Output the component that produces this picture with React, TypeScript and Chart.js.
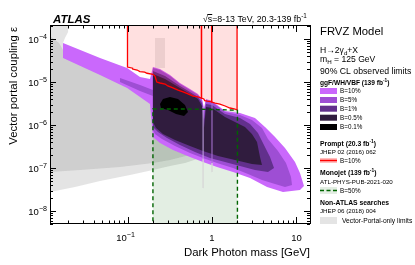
import React, { useEffect, useRef } from 'react';
import { Chart, registerables } from 'chart.js';

Chart.register(...registerables);

const FONT = '"Liberation Sans", Arial, Helvetica, sans-serif';

// Axis ranges (dark photon mass [GeV], vector portal coupling)
const X_MIN = 0.0121;
const X_MAX = 14.45;
const Y_MIN = 5e-9;
const Y_MAX = 2.12e-4;

const X_TICK_VALUES = [0.1, 1, 10];
const X_TICK_LABELS: [string, string][] = [['10', '\u22121'], ['1', ''], ['10', '']];
const Y_TICK_VALUES = [1e-4, 1e-5, 1e-6, 1e-7, 1e-8];
const Y_TICK_LABELS: [string, string][] = [['10', '\u22124'], ['10', '\u22125'], ['10', '\u22126'], ['10', '\u22127'], ['10', '\u22128']];

type P = [number, number];

// Non-ATLAS vector-portal-only limits (grey layers)
const greyOuter: P[] = [
  [0.0121, 2.3e-4], [0.0198, 2.3e-4], [0.0198, 1.456e-4], [0.0182, 1.055e-4], [0.01725, 8.07e-5],
  [0.01725, 5.55e-5], [0.0473, 2.48e-5], [0.2, 8.51e-6], [0.365, 4.99e-6], [0.721, 2.23e-6],
  [0.826, 2.62e-7], [0.721, 1.71e-7], [0.479, 1.31e-7], [0.3185, 1.11e-7], [0.2, 8.98e-8],
  [0.107, 6.87e-8], [0.0473, 4.99e-8], [0.0239, 3.61e-8], [0.0121, 2.77e-8],
];
const greyInner: P[] = [
  [0.0121, 1.175e-4], [0.0155, 8.07e-5], [0.01725, 5.55e-5], [0.0473, 2.48e-5], [0.2, 8.51e-6],
  [0.365, 4.99e-6], [0.721, 2.23e-6], [0.76, 6e-7], [0.549, 2.0e-7], [0.3185, 1.535e-7],
  [0.2, 1.31e-7], [0.0815, 1.055e-7], [0.0274, 8.98e-8], [0.0121, 8.07e-8],
];
const greyStripe: P[] = [[0.2115, 1.055e-4], [0.278, 1.055e-4], [0.278, 2.12e-5], [0.2115, 2.12e-5]];

// Monojet (B=50%)
const monojet: P[] = [
  [0.2, 4e-9], [0.2, 2.36e-6], [0.5, 2.36e-6], [1.0, 2.3e-6], [1.5, 2.25e-6], [2.0, 2.2e-6], [2.0, 4e-9],
];

// ggF/WH/VBF displaced searches
const b10: P[] = [
  [0.01725, 8.07e-5], [0.0473, 3.61e-5], [0.099, 2.12e-5], [0.1406, 1.31e-5], [0.1846, 1.175e-5],
  [0.2, 2.23e-5], [0.2425, 2.0e-5], [0.3185, 1.455e-5], [0.418, 9.48e-6], [0.549, 6.87e-6],
  [0.6825, 5.26e-6], [0.761, 4.03e-6], [0.804, 2.49e-6], [0.849, 4.03e-6], [1.0, 3.61e-6],
  [1.425, 2.12e-6], [2.145, 1.9e-6], [3.227, 1.455e-6], [4.24, 8.98e-7], [5.57, 5.26e-7],
  [7.31, 2.92e-7], [9.6, 1.38e-7], [11.0, 7.65e-8], [12.27, 3.81e-8], [11.0, 3.08e-8],
  [6.92, 2.77e-8], [4.48, 3.61e-8], [2.817, 5.85e-8], [1.773, 8.07e-8], [1.146, 1.055e-7],
  [0.782, 1.38e-7], [0.549, 1.8e-7], [0.3455, 2.62e-7], [0.2425, 3.81e-7], [0.2, 5.26e-7],
  [0.1846, 3.08e-6], [0.1406, 4.48e-6], [0.099, 7.25e-6], [0.0473, 1.455e-5], [0.01725, 3.61e-5],
];
const b5: P[] = [
  [0.2, 2.12e-5], [0.2425, 1.9e-5], [0.3185, 1.38e-5], [0.418, 8.98e-6], [0.549, 6.51e-6],
  [0.6825, 4.99e-6], [0.761, 3.81e-6], [0.804, 2.0e-6], [0.849, 3.81e-6], [1.0, 3.43e-6],
  [1.425, 2.0e-6], [2.145, 1.71e-6], [2.97, 1.31e-6], [3.905, 8.51e-7], [4.6, 4.72e-7],
  [6.04, 2.48e-7], [7.51, 1.31e-7], [8.61, 6.18e-8], [8.85, 4.03e-8], [7.31, 3.61e-8],
  [5.57, 4.25e-8], [3.905, 5.26e-8], [2.667, 7.25e-8], [1.773, 1.0e-7], [1.146, 1.31e-7],
  [0.782, 1.71e-7], [0.549, 2.23e-7], [0.365, 3.25e-7], [0.256, 4.72e-7], [0.2115, 6.18e-7],
  [0.2, 7.65e-7],
];
const b5Streak: P[] = [
  [0.0815, 1.24e-5], [0.1406, 8.51e-6], [0.2, 6.51e-6], [0.2, 4.72e-6], [0.1406, 6.18e-6], [0.0815, 1.0e-5],
];
const b1: P[] = [
  [0.2, 1.8e-5], [0.278, 1.38e-5], [0.418, 8.07e-6], [0.549, 5.85e-6], [0.6825, 4.48e-6],
  [0.761, 3.25e-6], [0.804, 1.31e-6], [0.849, 3.08e-6], [1.0, 2.92e-6], [1.425, 1.8e-6],
  [2.145, 1.455e-6], [2.817, 1.055e-6], [3.5, 6.51e-7], [4.12, 3.43e-7], [4.86, 1.8e-7],
  [5.42, 1.0e-7], [4.6, 8.07e-8], [3.227, 8.98e-8], [2.145, 1.11e-7], [1.425, 1.38e-7],
  [0.947, 1.71e-7], [0.629, 2.36e-7], [0.418, 3.43e-7], [0.2935, 4.99e-7], [0.2296, 6.87e-7],
  [0.2, 8.98e-7],
];
const b05: P[] = [
  [0.2, 1.535e-5], [0.278, 1.175e-5], [0.418, 7.25e-6], [0.549, 5.26e-6], [0.6825, 4.03e-6],
  [0.761, 2.77e-6], [0.804, 8.51e-7], [0.849, 2.62e-6], [1.0, 2.49e-6], [1.425, 1.535e-6],
  [2.458, 8.98e-7], [2.97, 6.18e-7], [3.41, 4.03e-7], [3.7, 1.8e-7], [3.905, 1.175e-7],
  [2.97, 1.24e-7], [1.871, 1.535e-7], [1.178, 1.9e-7], [0.782, 2.48e-7], [0.549, 3.25e-7],
  [0.365, 4.48e-7], [0.263, 6.18e-7], [0.2175, 8.51e-7], [0.2, 1.175e-6],
];
const b01: P[] = [
  [0.2425, 3.08e-6], [0.263, 4.03e-6], [0.3185, 4.48e-6], [0.396, 4.03e-6], [0.479, 2.92e-6],
  [0.52, 2.0e-6], [0.4665, 1.62e-6], [0.375, 1.8e-6], [0.3015, 2.23e-6], [0.249, 2.49e-6],
];
const spikeA: P[] = [[0.785, 2.6e-6], [0.785, 1.6e-7]];
const spikeAlow: P[] = [[0.785, 1.6e-7], [0.785, 3.43e-8]];
const spikeB: P[] = [[1.0, 3.2e-6], [1.0, 1.3e-7]];
const spikeBlow: P[] = [[1.0, 1.3e-7], [1.0, 8.07e-8]];

// Prompt search (B=10%)
const promptA: P[] = [
  [0.1, 2.3e-4], [0.1, 2.23e-5], [0.115, 2.1e-5], [0.115, 2.0e-5], [0.13, 1.9e-5], [0.14, 1.75e-5],
  [0.16, 1.7e-5], [0.17, 1.6e-5], [0.2, 1.5e-5], [0.2115, 1.38e-5], [0.222, 1.0e-5], [0.2425, 9.5e-6],
  [0.278, 9.0e-6], [0.3, 8.1e-6], [0.345, 7.3e-6], [0.396, 6.5e-6], [0.454, 5.9e-6], [0.52, 5.3e-6],
  [0.596, 4.7e-6], [0.68, 4.5e-6], [0.751, 4.25e-6], [0.751, 2.3e-4],
];
const promptB: P[] = [
  [0.751, 2.3e-4], [0.751, 4.25e-6], [0.8, 4.03e-6], [0.82, 3.7e-6], [0.88, 3.61e-6], [0.99, 3.5e-6], [0.99, 2.3e-4],
];
const promptC: P[] = [
  [0.99, 2.3e-4], [0.99, 3.43e-6], [1.09, 3.25e-6], [1.24, 3.08e-6], [1.43, 2.77e-6], [1.63, 2.49e-6],
  [1.87, 2.36e-6], [1.98, 2.23e-6], [1.98, 2.3e-4],
];

const C_B10 = 'rgb(202,104,252)';
const C_B5 = 'rgb(158,78,212)';
const C_B1 = 'rgb(98,48,140)';
const C_B05 = 'rgb(48,28,62)';
const C_B01 = 'rgb(0,0,0)';
const C_GREY = 'rgba(120,120,120,0.2)';
const C_MONO = 'rgba(0,100,0,0.11)';
const C_PINK = 'rgba(255,0,0,0.12)';

const LEGEND_B: [string, string][] = [
  ['B=10%', C_B10], ['B=5%', C_B5], ['B=1%', C_B1], ['B=0.5%', C_B05], ['B=0.1%', C_B01],
];

type Seg = { t: string; k?: 'sup' | 'sub' };

function drawRich(
  ctx: CanvasRenderingContext2D, segs: Seg[], x: number, y: number, size: number,
  weight = 'normal', style = 'normal', align: 'left' | 'right' | 'center' = 'left', smallScale = 0.72,
) {
  const f = (s: number) => `${style} ${weight} ${s}px ${FONT}`;
  const small = size * smallScale;
  let w = 0;
  const ws = segs.map((s) => {
    ctx.font = f(s.k ? small : size);
    const m = ctx.measureText(s.t).width;
    w += m;
    return m;
  });
  let cx = align === 'left' ? x : align === 'right' ? x - w : x - w / 2;
  ctx.textAlign = 'left';
  ctx.textBaseline = 'alphabetic';
  segs.forEach((s, i) => {
    ctx.font = f(s.k ? small : size);
    const dy = s.k === 'sup' ? -size * 0.42 : s.k === 'sub' ? size * 0.28 : 0;
    ctx.fillText(s.t, cx, y + dy);
    cx += ws[i];
  });
  return w;
}

const overlay = {
  id: 'overlay',
  afterDraw(chart: any) {
    const ctx: CanvasRenderingContext2D = chart.ctx;
    const xs = chart.scales.x;
    const ys = chart.scales.y;
    const { left, right, top, bottom } = chart.chartArea;
    ctx.save();
    ctx.fillStyle = '#000';
    ctx.strokeStyle = '#000';
    ctx.lineWidth = 1;
    ctx.setLineDash([]);
    ctx.beginPath();
    for (let d = -2; d <= 1; d++) {
      for (let m = 1; m <= 9; m++) {
        const v = m * Math.pow(10, d);
        if (v < X_MIN || v > X_MAX) continue;
        const px = Math.round(xs.getPixelForValue(v)) + 0.5;
        const L = m === 1 ? 7 : 3.5;
        ctx.moveTo(px, bottom); ctx.lineTo(px, bottom - L);
        ctx.moveTo(px, top); ctx.lineTo(px, top + L);
      }
    }
    for (let d = -9; d <= -4; d++) {
      for (let m = 1; m <= 9; m++) {
        const v = m * Math.pow(10, d);
        if (v < Y_MIN || v > Y_MAX) continue;
        const py = Math.round(ys.getPixelForValue(v)) + 0.5;
        const L = m === 1 ? 6 : 3;
        ctx.moveTo(left, py); ctx.lineTo(left + L, py);
        ctx.moveTo(right, py); ctx.lineTo(right - L, py);
      }
    }
    ctx.stroke();
    ctx.strokeRect(left + 0.5, top + 0.5, right - left, bottom - top - 1);

    // tick labels
    X_TICK_VALUES.forEach((v, i) => {
      const px = xs.getPixelForValue(v);
      const [b, s] = X_TICK_LABELS[i];
      const segs: Seg[] = s ? [{ t: b }, { t: s, k: 'sup' }] : [{ t: b }];
      drawRich(ctx, segs, s ? px - 2 : px, 240.5, 9.5, 'normal', 'normal', 'center', 0.75);
    });
    Y_TICK_VALUES.forEach((v, i) => {
      const py = ys.getPixelForValue(v);
      const [b, s] = Y_TICK_LABELS[i];
      drawRich(ctx, [{ t: b }, { t: s, k: 'sup' }], 47, py + 3.5, 9.5, 'normal', 'normal', 'right', 0.75);
    });

    // axis titles
    ctx.font = `11.4px ${FONT}`;
    ctx.textAlign = 'right';
    ctx.textBaseline = 'alphabetic';
    ctx.fillText('Dark Photon mass [GeV]', right, 256);
    ctx.save();
    ctx.translate(16.5, 27);
    ctx.rotate(-Math.PI / 2);
    ctx.fillText('Vector portal coupling \u03b5', 0, 0);
    ctx.restore();

    // top labels
    drawRich(ctx, [{ t: 'ATLAS' }], 53, 23, 11.5, 'bold', 'italic');
    const w0 = drawRich(ctx, [{ t: '\u221a' }], 203, 22, 8.8);
    const w1 = drawRich(ctx, [{ t: 's' }], 203 + w0, 22, 8.8);
    ctx.beginPath();
    ctx.moveTo(203 + w0 - 0.5, 14.5); ctx.lineTo(203 + w0 + w1, 14.5);
    ctx.stroke();
    drawRich(ctx, [{ t: '=8-13 TeV, 20.3-139 fb' }, { t: '-1', k: 'sup' }], 203 + w0 + w1, 22, 8.8);

    // legend
    const LX = 320;
    drawRich(ctx, [{ t: 'FRVZ Model' }], LX, 35, 11.3);
    drawRich(ctx, [{ t: 'H\u21922\u03b3' }, { t: 'd', k: 'sub' }, { t: '+X' }], LX, 53, 8.6);
    drawRich(ctx, [{ t: 'm' }, { t: 'H', k: 'sub' }, { t: ' = 125 GeV' }], LX, 61.5, 8.6);
    drawRich(ctx, [{ t: '90% CL observed limits' }], LX, 74, 8.7);
    drawRich(ctx, [{ t: 'ggF/WH/VBF (139 fb' }, { t: '-1', k: 'sup' }, { t: ')' }], LX, 85, 6.6, 'bold');
    const rowsY = [91, 100, 108.7, 117.7, 127];
    LEGEND_B.forEach(([lab, col], i) => {
      const cy = rowsY[i];
      ctx.fillStyle = col;
      ctx.fillRect(LX, cy - 3, 17, 6);
      ctx.fillStyle = '#000';
      drawRich(ctx, [{ t: lab }], 340, cy + 2.3, 6.3);
    });

    drawRich(ctx, [{ t: 'Prompt (20.3 fb' }, { t: '-1', k: 'sup' }, { t: ')' }], LX, 146, 6.8, 'bold');
    drawRich(ctx, [{ t: 'JHEP 02 (2016) 062' }], LX, 154, 6.2);
    ctx.strokeStyle = 'rgba(255,0,0,0.25)';
    ctx.lineWidth = 5;
    ctx.beginPath(); ctx.moveTo(LX, 160.5); ctx.lineTo(LX + 17, 160.5); ctx.stroke();
    ctx.strokeStyle = '#ff0000';
    ctx.lineWidth = 1.5;
    ctx.beginPath(); ctx.moveTo(LX, 160.5); ctx.lineTo(LX + 17, 160.5); ctx.stroke();
    drawRich(ctx, [{ t: 'B=10%' }], 340, 162.8, 6.3);

    drawRich(ctx, [{ t: 'Monojet (139 fb' }, { t: '-1', k: 'sup' }, { t: ')' }], LX, 175, 6.8, 'bold');
    drawRich(ctx, [{ t: 'ATL-PHYS-PUB-2021-020' }], LX, 184, 6.2);
    ctx.fillStyle = C_MONO;
    ctx.fillRect(LX, 187, 17, 7);
    ctx.fillStyle = '#000';
    ctx.strokeStyle = '#006400';
    ctx.lineWidth = 1.5;
    ctx.setLineDash([4, 2.5]);
    ctx.beginPath(); ctx.moveTo(LX, 190.5); ctx.lineTo(LX + 17, 190.5); ctx.stroke();
    ctx.setLineDash([]);
    drawRich(ctx, [{ t: 'B=50%' }], 340, 192.8, 6.3);

    drawRich(ctx, [{ t: 'Non-ATLAS searches' }], LX, 205, 6.8, 'bold');
    drawRich(ctx, [{ t: 'JHEP 06 (2018) 004' }], LX, 213, 6.2);
    ctx.fillStyle = C_GREY;
    ctx.fillRect(LX, 217, 17, 7);
    ctx.fillStyle = '#000';
    drawRich(ctx, [{ t: 'Vector-Portal-only limits' }], 342, 223, 6.7);
    ctx.restore();
  },
};

function poly(pts: P[], color: string, extra: any = {}) {
  return {
    data: pts.map(([x, y]) => ({ x, y })),
    showLine: true,
    fill: 'shape',
    backgroundColor: color,
    borderColor: 'rgba(0,0,0,0)',
    borderWidth: 0,
    pointRadius: 0,
    pointHoverRadius: 0,
    tension: 0,
    ...extra,
  };
}

function line(pts: P[], color: string, width: number, extra: any = {}) {
  return {
    data: pts.map(([x, y]) => ({ x, y })),
    showLine: true,
    fill: false,
    borderColor: color,
    borderWidth: width,
    backgroundColor: color,
    pointRadius: 0,
    pointHoverRadius: 0,
    tension: 0,
    ...extra,
  };
}

export default function App() {
  const ref = useRef<HTMLCanvasElement | null>(null);
  useEffect(() => {
    if (!ref.current) return;
    const datasets: any[] = [
      poly(greyOuter, C_GREY),
      poly(greyInner, C_GREY),
      poly(greyStripe, 'rgba(120,120,120,0.15)'),
      poly(monojet, C_MONO),
      poly(b10, C_B10),
      poly(b5, C_B5),
      poly(b5Streak, C_B5),
      poly(b1, C_B1),
      poly(b05, C_B05),
      poly(b01, C_B01),
      line(spikeA, 'rgba(200,165,235,0.55)', 0.8),
      line(spikeAlow, 'rgba(215,215,215,0.8)', 0.8),
      line(spikeB, 'rgba(170,120,215,0.55)', 0.8),
      line(spikeBlow, 'rgba(215,215,215,0.8)', 0.8),
      poly(promptA, C_PINK, { borderColor: '#ff0000', borderWidth: 1.3 }),
      poly(promptB, C_PINK, { borderColor: '#ff0000', borderWidth: 1.3 }),
      poly(promptC, C_PINK, { borderColor: '#ff0000', borderWidth: 1.3 }),
      line(monojet, '#006400', 1.4, { borderDash: [4, 3] }),
    ];
    datasets.forEach((d, i) => { d.order = datasets.length - i; });
    const chart = new Chart(ref.current, {
      type: 'scatter',
      data: { datasets },
      options: {
        animation: false,
        responsive: false,
        devicePixelRatio: 1,
        layout: { padding: { left: 50, top: 25, right: 105, bottom: 41 } },
        scales: {
          x: { type: 'logarithmic', min: X_MIN, max: X_MAX, display: false },
          y: { type: 'logarithmic', min: Y_MIN, max: Y_MAX, display: false },
        },
        plugins: { legend: { display: false }, tooltip: { enabled: false } },
        events: [],
      } as any,
      plugins: [overlay],
    });
    return () => chart.destroy();
  }, []);
  return (
    <div style={{ position: 'absolute', left: 0, top: 0, width: 415, height: 265, background: '#fff' }}>
      <canvas ref={ref} width={415} height={265} style={{ width: 415, height: 265, display: 'block' }} />
    </div>
  );
}
